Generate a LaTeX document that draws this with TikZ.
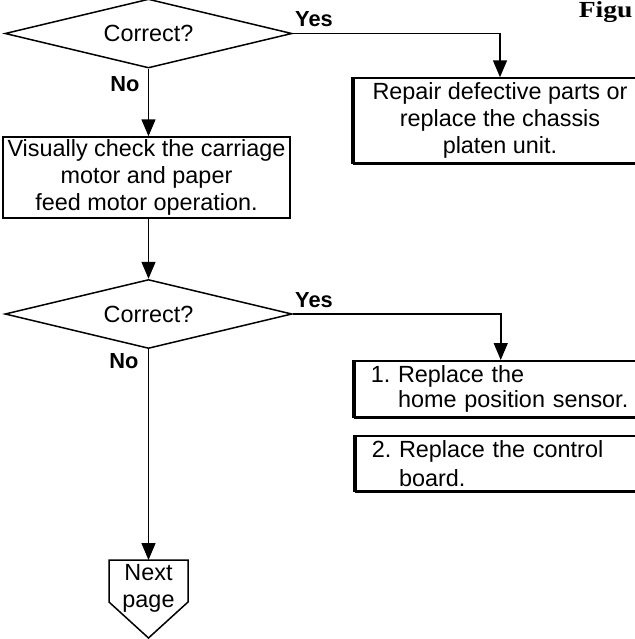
\documentclass[tikz,border=0pt]{standalone}
\usepackage{fontspec}
\usepackage{graphicx}
\setmainfont{Liberation Sans}
\newfontfamily\headfont{Liberation Serif}
\usetikzlibrary{shapes.geometric,arrows.meta}
\frenchspacing

\begin{document}
\begin{tikzpicture}[x=0.5pt,y=-0.5pt,
  font=\fontsize{11.7}{13.5}\selectfont,
  line width=0.75pt,
  flow/.style={-{Triangle[length=8.5pt,width=7pt]}, line width=0.75pt},
  decision/.style={diamond, draw, inner sep=0pt, aspect=4.16, minimum width=143.5pt, minimum height=34.5pt},
  procbox/.style={rectangle, draw, align=center, inner sep=0pt},
  actbox/.style={rectangle, draw, align=left, text width=130pt, inner xsep=8pt, inner ysep=0pt, anchor=north west},
  lbl/.style={font=\fontsize{10.9}{12}\selectfont\bfseries},
  thickedge/.style={line width=2pt},
  baseedge/.style={line width=1.1pt}
]
\fill[white] (0,0) rectangle (635,639);
\clip (0,0) rectangle (635,639);

% heading (runs off the page edge)
\node[font=\headfont\bfseries\fontsize{11.5}{13}\selectfont, anchor=base west, inner sep=0pt] (fig) at (578,17) {\scalebox{1.2}[1]{Figu}};

% decisions
\node[decision] (q1) at (148.5,33.5) {Correct?};
\node[decision] (q2) at (148.5,314) {Correct?};

% process boxes
\node[procbox, minimum width=143.5pt, minimum height=40.5pt] (chk) at (146.5,177.5)
  {Visually check the carriage\\motor and paper\\feed motor operation.};
\node[procbox, minimum width=146pt, minimum height=42.5pt] (rep) at (500,120.5)
  {Repair defective parts or\\replace the chassis\\platen unit.};
\node[actbox, minimum height=28pt] (r1) at (354,360)
  {1. Replace the\\[-1pt]\hphantom{1.\ }home position sensor.};
\node[actbox, minimum height=27.5pt] (r2) at (355,435)
  {2. Replace the control\\[1pt]\hphantom{2.\ }board.};

% emphasised edges of the action boxes
\foreach \b in {rep,r1,r2}{
  \draw[thickedge] (\b.north west) -- (\b.south west);
  \draw[baseedge] (\b.south west) -- (\b.south east);
}

% off-page connector
\coordinate (nptop) at (148.5,560);
\coordinate (npnw) at (109,560);
\coordinate (npne) at (188,560);
\coordinate (npse) at (188,602);
\coordinate (npsw) at (109,602);
\coordinate (nptip) at (148.5,638);
\draw (npnw) -- (npne) -- (npse) -- (nptip) -- (npsw) -- cycle;
\node[inner sep=0pt, align=center] (np) at (148.5,588) {Next\\page};

% branch labels
\node[lbl] (y1) at (314,19) {Yes};
\node[lbl] (n1) at (125,84) {No};
\node[lbl] (y2) at (314,300) {Yes};
\node[lbl] (n2) at (124,361) {No};

% connectors
\draw[flow] (q1.south) -- (q1.south |- chk.north);
\draw[flow] (q2.north |- chk.south) -- (q2.north);
\draw[flow] (q1.east) -| (rep.north);
\draw[flow] (q2.east) -| (r1.north);
\draw[flow] (q2.south) -- (nptop);
\end{tikzpicture}
\end{document}
